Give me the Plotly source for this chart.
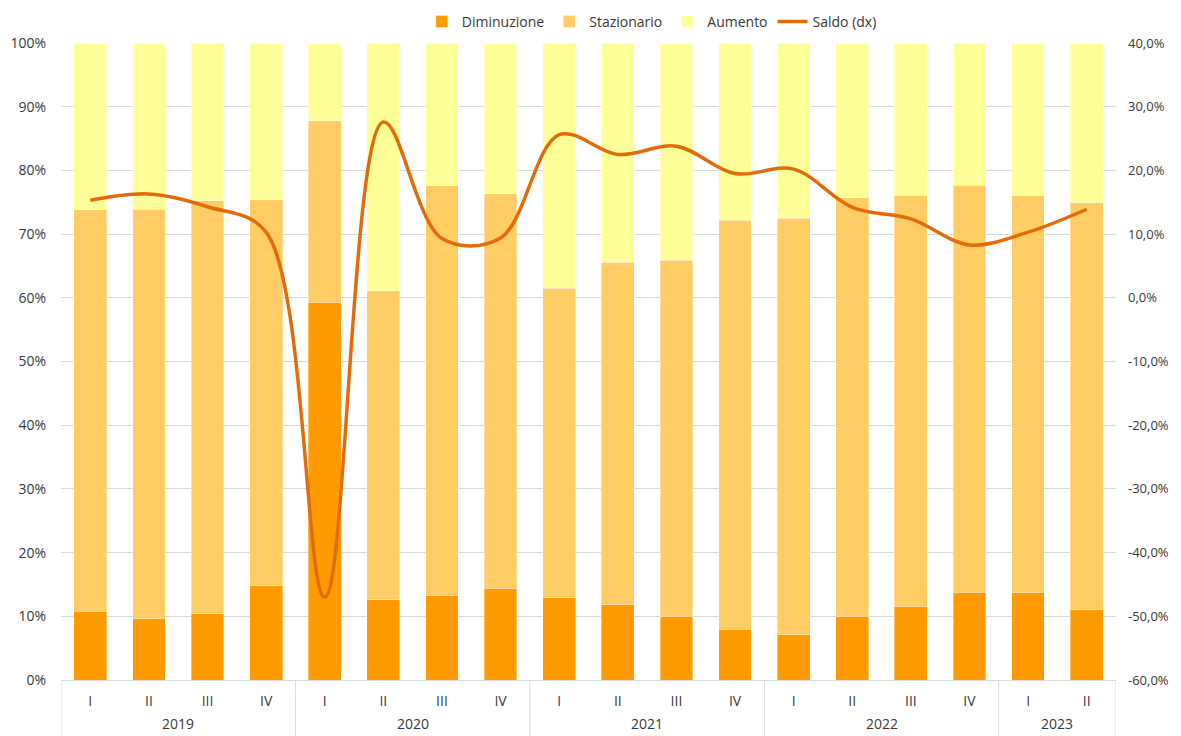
import plotly.graph_objects as go

years = ["2019"] * 4 + ["2020"] * 4 + ["2021"] * 4 + ["2022"] * 4 + ["2023"] * 2
quarters = ["I", "II", "III", "IV"] * 4 + ["I", "II"]

diminuzione = [10.8, 9.6, 10.4, 14.9, 59.3, 12.6, 13.2, 14.4, 12.9, 11.8, 10.0, 8.0,
               7.1, 10.0, 11.6, 13.8, 13.7, 11.1]
cumulato_staz = [73.8, 73.9, 75.2, 75.4, 87.8, 61.1, 77.6, 76.3, 61.5, 65.6, 65.9, 72.2,
                 72.5, 75.7, 76.1, 77.7, 76.0, 74.9]
stazionario = [round(c - d, 1) for c, d in zip(cumulato_staz, diminuzione)]
aumento = [round(100 - c, 1) for c in cumulato_staz]
saldo = [15.3, 16.3, 14.3, 10.3, -47.0, 27.6, 9.3, 9.4, 25.6, 22.5, 23.8, 19.5,
         20.2, 14.2, 12.4, 8.3, 10.3, 13.9]

left_ticks = list(range(0, 101, 10))
left_text = [f"{v}%" for v in left_ticks]
right_ticks = list(range(-60, 41, 10))
right_text = [f"{v},0%" for v in right_ticks]

idx = list(range(len(quarters)))

# groups of years (start, end index)
groups = []
for i, yv in enumerate(years):
    if not groups or groups[-1][0] != yv:
        groups.append([yv, i, i])
    else:
        groups[-1][2] = i

fig = go.Figure()
line_w = dict(color="rgba(255,255,255,0.6)", width=0.6)
fig.add_trace(go.Bar(x=idx, y=diminuzione, name="Diminuzione",
                     marker=dict(color="#FF9A00", line=line_w)))
fig.add_trace(go.Bar(x=idx, y=stazionario, name="Stazionario",
                     marker=dict(color="#FFCC66", line=line_w)))
fig.add_trace(go.Bar(x=idx, y=aumento, name="Aumento",
                     marker=dict(color="#FFFF99", line=line_w)))
fig.add_trace(go.Scatter(x=idx, y=saldo, name="Saldo (dx)", mode="lines", yaxis="y2",
                         line=dict(color="#E36C0A", width=3.5, shape="spline", smoothing=1.0)))

tf = dict(family="Open Sans, sans-serif", size=14, color="#3a3a3a")
tf_r = dict(family="Open Sans, sans-serif", size=13, color="#3a3a3a")

shapes = []
annotations = []
bounds = [groups[0][1] - 0.5] + [g[2] + 0.5 for g in groups]
for b in bounds:
    shapes.append(dict(type="line", xref="x", yref="paper", x0=b, x1=b, y0=0, y1=-0.09,
                       line=dict(color="#d9d9d9", width=1)))
for name, s, e in groups:
    annotations.append(dict(text=name, xref="x", yref="paper", x=(s + e) / 2, y=-0.068,
                            yanchor="middle", showarrow=False, font=tf))

fig.update_layout(
    barmode="stack",
    bargap=0.44,
    width=1165, height=728,
    margin=dict(l=53, r=57, t=35, b=56, autoexpand=False),
    paper_bgcolor="white", plot_bgcolor="white",
    font=tf,
    shapes=shapes,
    annotations=annotations,
    legend=dict(orientation="h", x=0.56, xanchor="center", y=1.033, yanchor="middle",
                font=tf, traceorder="normal", bgcolor="rgba(0,0,0,0)"),
    xaxis=dict(range=[-0.5, len(idx) - 0.5], tickvals=idx, ticktext=quarters,
               showline=True, linecolor="#d9d9d9", linewidth=1,
               ticks="", ticklabelstandoff=8, zeroline=False,
               tickfont=tf, automargin=False, showgrid=False),
    yaxis=dict(range=[0, 100], tickvals=left_ticks, ticktext=left_text,
               showgrid=True, gridcolor="#d9d9d9", gridwidth=1, zeroline=False,
               ticks="", ticklabelstandoff=14,
               tickfont=tf, automargin=False),
    yaxis2=dict(range=[-60, 40], tickvals=right_ticks, ticktext=right_text,
                overlaying="y", side="right", showgrid=False, zeroline=False,
                ticks="", ticklabelstandoff=11,
                tickfont=tf_r, automargin=False),
)
fig.write_html("out.html")
